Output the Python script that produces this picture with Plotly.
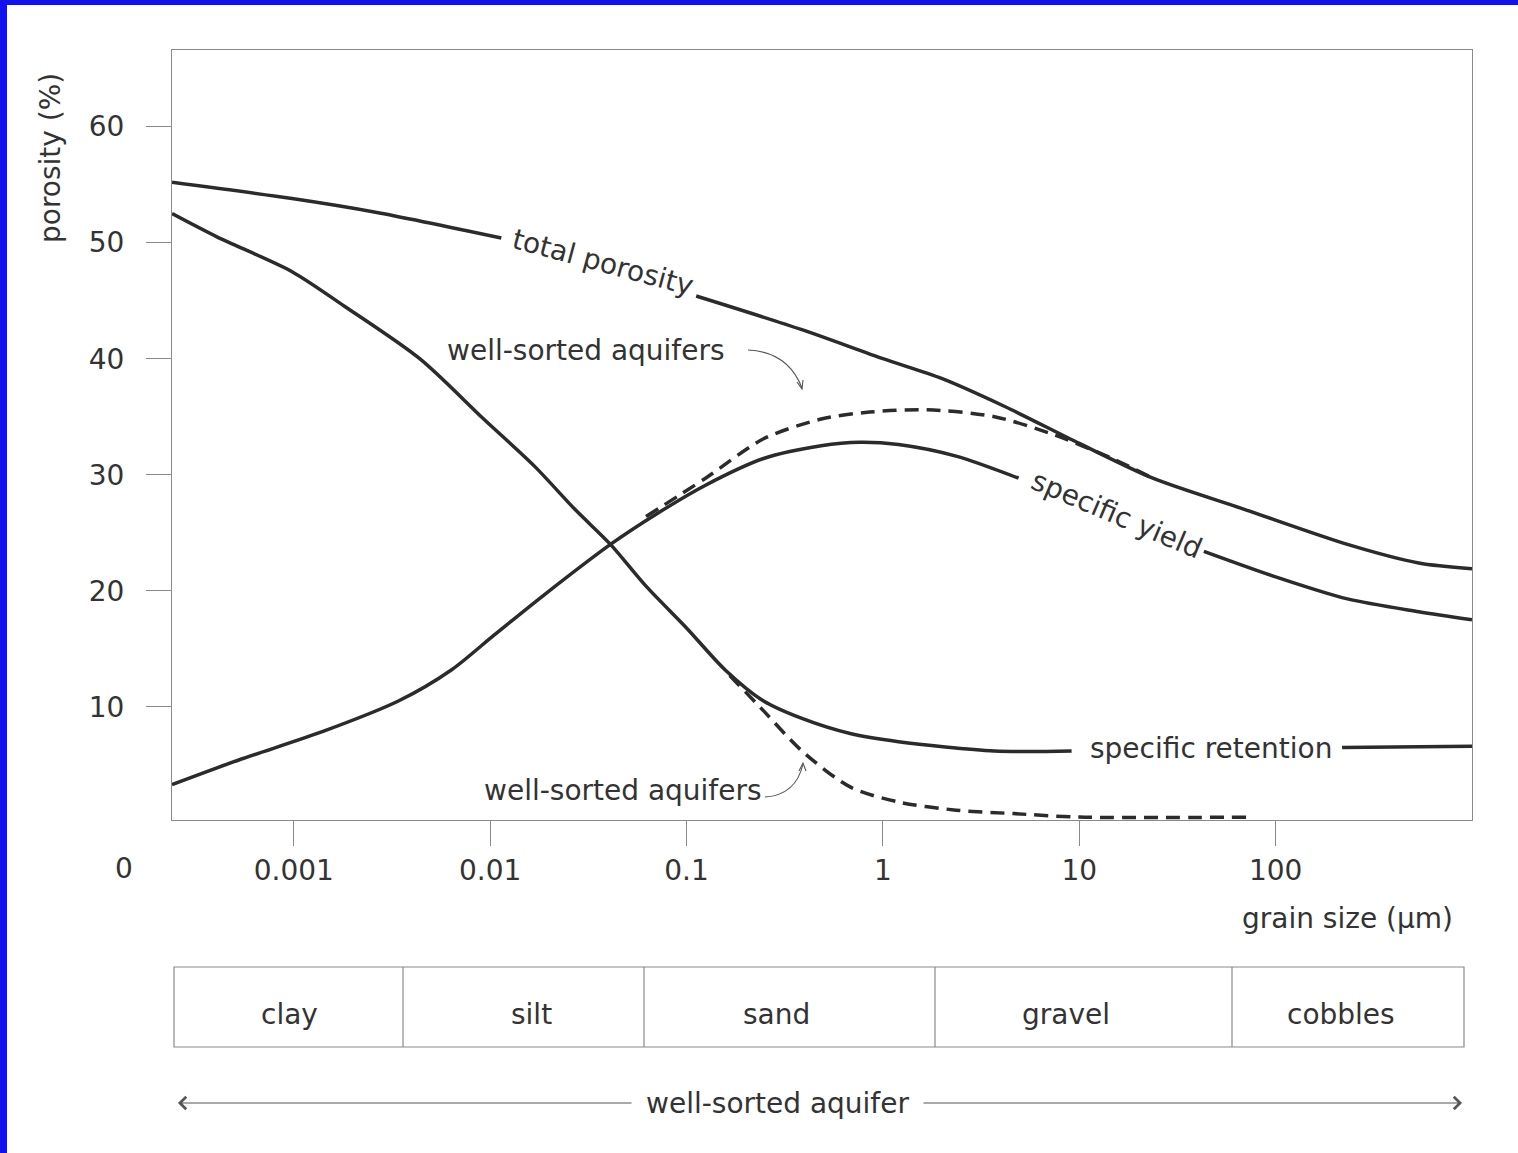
import plotly.graph_objects as go

# ---------------- data ----------------
# grain size (µm) and porosity (%) ; None = gap where the curve label sits
tp_x = [0.00024, 0.00098, 0.00265, 0.0114, None, 0.112, 0.387, 1.0, 1.99, 4.15, 10.0, 23.7, 69.8, 232, 535, 1000]
tp_y = [55.2, 53.8, 52.6, 50.4, None, 45.4, 42.5, 40.0, 38.3, 35.9, 32.7, 29.7, 27.0, 24.0, 22.4, 21.9]

sr_x = [0.00024, 0.000406, 0.00098, 0.00182, 0.00438, 0.00927, 0.0169, 0.0271, 0.041, 0.0622, 0.1, 0.157,
        0.247, 0.387, 0.681, 1.2, 3.7, 9.14, None, 218, 1000]
sr_y = [52.5, 50.5, 47.5, 44.5, 40.0, 34.8, 30.7, 27.0, 24.0, 20.4, 16.8, 13.2,
        10.5, 9.0, 7.7, 7.0, 6.2, 6.2, None, 6.5, 6.6]

sy_x = [0.00024, 0.000521, 0.00142, 0.00341, 0.00637, 0.0105, 0.019, 0.041, 0.07, 0.125, 0.247, 0.485,
        0.763, 1.2, 2.36, 4.91, None, 43.1, 100, 232, 535, 1000]
sy_y = [3.3, 5.4, 7.9, 10.5, 13.2, 16.2, 19.7, 24.0, 26.6, 29.1, 31.4, 32.5,
        32.8, 32.6, 31.6, 29.7, None, 23.4, 21.2, 19.3, 18.2, 17.5]

wsu_x = [0.0622, 0.125, 0.247, 0.485, 0.854, 1.68, 3.7, 7.29, 14.7, 23.7]
wsu_y = [26.4, 29.7, 33.1, 34.8, 35.4, 35.6, 35.0, 33.5, 31.4, 29.7]

wsl_x = [0.166, 0.247, 0.387, 0.681, 1.2, 2.36, 4.64, 10.0, 74.1]
wsl_y = [12.7, 9.65, 6.2, 3.1, 1.8, 1.1, 0.8, 0.5, 0.5]

x_tick_vals = [0.001, 0.01, 0.1, 1, 10, 100]
x_tick_text = ["0.001", "0.01", "0.1", "1", "10", "100"]
y_tick_vals = [10, 20, 30, 40, 50, 60]
classes = ["clay", "silt", "sand", "gravel", "cobbles"]

# ---------------- layout constants ----------------
W, H = 1518, 1153
PL, PT, PR, PB = 172, 50, 1472, 820     # plot box in page pixels
PW, PH = PR - PL, PB - PT
ML, MT = PL, PT
MR, MB = W - PR, H - PB
FONT = "DejaVu Sans"
TXT = "#333333"
LINE = "#2b2b2b"
GREY = "#8a8a8a"

table_bounds = [174, 403, 644, 935, 1232, 1464]     # cell edges (px)
table_label_px = [289, 531, 776, 1066, 1341]        # label centres (px)


def px(xp):
    return (xp - PL) / PW


def py(yp):
    return (PB - yp) / PH


fig = go.Figure()
solid = dict(color=LINE, width=3.5, shape="spline", smoothing=0.8)
dashed = dict(color=LINE, width=3.5, shape="spline", smoothing=0.8, dash="14px,8px")
for xs, ys, ln, nm in [(tp_x, tp_y, solid, "total porosity"),
                       (sr_x, sr_y, solid, "specific retention"),
                       (sy_x, sy_y, solid, "specific yield"),
                       (wsu_x, wsu_y, dashed, "well-sorted (yield)"),
                       (wsl_x, wsl_y, dashed, "well-sorted (retention)")]:
    fig.add_trace(go.Scatter(x=xs, y=ys, mode="lines", line=ln, name=nm,
                             connectgaps=False, showlegend=False, hoverinfo="skip"))

ann = []
lab = dict(font=dict(family=FONT, size=28, color=TXT), showarrow=False,
           xanchor="center", yanchor="middle")
# curve labels (data coordinates, x in log10 units)
ann.append(dict(x=-1.423, y=48.3, xref="x", yref="y", text="total porosity", textangle=15, **lab))
ann.append(dict(x=1.19, y=26.6, xref="x", yref="y", text="specific yield", textangle=23, **lab))
ann.append(dict(x=1.672, y=6.4, xref="x", yref="y", text="specific retention", **lab))
ann.append(dict(x=-1.51, y=40.7, xref="x", yref="y", text="well-sorted aquifers", **lab))
ann.append(dict(x=-1.325, y=2.8, xref="x", yref="y", text="well-sorted aquifers", **lab))

# axis texts
ann.append(dict(x=px(50), y=py(158), xref="paper", yref="paper", text="porosity (%)", textangle=-90, **lab))
ann.append(dict(x=px(124), y=py(868), xref="paper", yref="paper", text="0", **lab))
ann.append(dict(x=px(1347), y=py(918), xref="paper", yref="paper", text="grain size (\u00b5m)", **lab))

# grain-size class table
tx0, tx1, ty0, ty1 = px(table_bounds[0]), px(table_bounds[-1]), py(1047), py(967)
shapes = [dict(type="rect", xref="paper", yref="paper", x0=tx0, x1=tx1, y0=ty0, y1=ty1,
               line=dict(color=GREY, width=1.2))]
for b in table_bounds[1:-1]:
    shapes.append(dict(type="line", xref="paper", yref="paper", x0=px(b), x1=px(b), y0=ty0, y1=ty1,
                       line=dict(color=GREY, width=1.2)))
for c, lx in zip(classes, table_label_px):
    ann.append(dict(x=px(lx), y=py(1014), xref="paper", yref="paper", text=c, **lab))

# bottom double arrow
ya = py(1103)
ann.append(dict(x=px(777), y=ya, xref="paper", yref="paper", text="well-sorted aquifer", **lab))
arr = dict(xref="paper", yref="paper", text="", showarrow=True, arrowhead=4, arrowsize=2.2,
           arrowwidth=1.1, arrowcolor="#555555", ay=0)
ann.append(dict(x=px(178), y=ya, ax=633 - 178, **arr))
ann.append(dict(x=px(1462), y=ya, ax=-(1462 - 922), **arr))


# curved leader arrows for the "well-sorted aquifers" labels
def qpath(p0, c, p1):
    return "M %f,%f Q %f,%f %f,%f" % (px(p0[0]), py(p0[1]), px(c[0]), py(c[1]), px(p1[0]), py(p1[1]))


lead = dict(color="#555555", width=1.1)
shapes.append(dict(type="path", xref="paper", yref="paper", path=qpath((748, 350), (788, 352), (802, 388)), line=lead))
shapes.append(dict(type="path", xref="paper", yref="paper",
                   path="M %f,%f L %f,%f L %f,%f" % (px(797), py(382), px(802), py(389), px(803), py(380)), line=lead))
shapes.append(dict(type="path", xref="paper", yref="paper", path=qpath((765, 797), (796, 795), (803, 764)), line=lead))
shapes.append(dict(type="path", xref="paper", yref="paper",
                   path="M %f,%f L %f,%f L %f,%f" % (px(799), py(771), px(803), py(763), px(806), py(771)), line=lead))

# blue slide border
BLUE = "rgb(18,18,235)"
shapes.append(dict(type="rect", xref="paper", yref="paper", x0=px(0), x1=px(7), y0=py(H), y1=py(0),
                   fillcolor=BLUE, line=dict(width=0)))
shapes.append(dict(type="rect", xref="paper", yref="paper", x0=px(0), x1=px(W), y0=py(5), y1=py(0),
                   fillcolor=BLUE, line=dict(width=0)))

fig.update_layout(
    width=W, height=H,
    margin=dict(l=ML, r=MR, t=MT, b=MB, pad=0),
    paper_bgcolor="white", plot_bgcolor="white",
    showlegend=False,
    annotations=ann, shapes=shapes,
    font=dict(family=FONT, size=28, color=TXT),
)
fig.update_xaxes(type="log", range=[-3.62, 3.0], tickvals=x_tick_vals, ticktext=x_tick_text,
                 ticks="outside", ticklen=25, tickwidth=1, tickcolor=GREY,
                 showline=True, linecolor=GREY, linewidth=1, mirror=True,
                 showgrid=False, zeroline=False, ticklabelstandoff=0,
                 tickfont=dict(family=FONT, size=28, color=TXT))
fig.update_yaxes(range=[0.25, 66.6], tickvals=y_tick_vals,
                 ticks="outside", ticklen=25, tickwidth=1, tickcolor=GREY,
                 showline=True, linecolor=GREY, linewidth=1, mirror=True,
                 showgrid=False, zeroline=False, ticklabelstandoff=16,
                 tickfont=dict(family=FONT, size=28, color=TXT))

fig.write_html("out.html", config={"displayModeBar": False},
               post_script="document.body.style.margin='0';document.body.style.overflow='hidden';")
